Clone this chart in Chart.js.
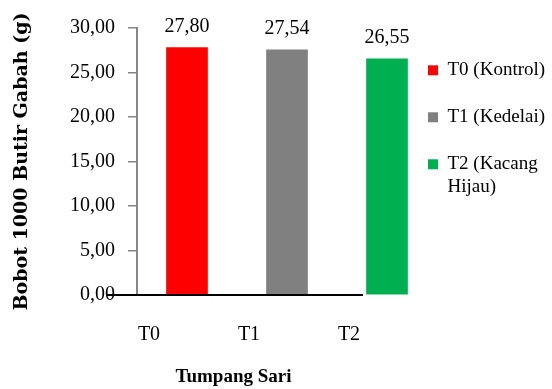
<!DOCTYPE html>
<html>
<head>
<meta charset="utf-8">
<script src="https://cdn.jsdelivr.net/npm/chart.js@4/dist/chart.umd.min.js"></script>
<style>
  html, body { margin: 0; padding: 0; background: #fff; }
  canvas { display: block; }
</style>
</head>
<body>
<canvas id="chart" width="552" height="389"></canvas>
<script>
// Categories on the x axis and their weights
const categories = ['T0', 'T1', 'T2'];
const weights = [27.80, 27.54, 26.55];
// Legend entries (array = wrapped lines)
const treatmentNames = ['T0 (Kontrol)', 'T1 (Kedelai)', ['T2 (Kacang', 'Hijau)']];
const barColors = ['#FF0000', '#808080', '#00B050'];
// Y axis range
const yMin = 0, yMax = 30, yStep = 5;

const serif = 'Liberation Serif';
const fmt = v => Number(v).toFixed(2).replace('.', ',');

// Value labels above each bar
const valueLabels = {
  id: 'valueLabels',
  afterDatasetsDraw(chart) {
    const ctx = chart.ctx;
    const meta = chart.getDatasetMeta(0);
    ctx.save();
    ctx.font = '20px "' + serif + '"';
    ctx.fillStyle = '#000';
    ctx.textAlign = 'center';
    ctx.textBaseline = 'middle';
    meta.data.forEach((bar, i) => {
      ctx.fillText(fmt(weights[i]), bar.x, bar.y - 21);
    });
    ctx.restore();
  }
};

// Black base line along zero
const baseLine = {
  id: 'baseLine',
  afterDraw(chart) {
    const {ctx, scales: {x, y}} = chart;
    const yp = y.getPixelForValue(0);
    ctx.save();
    ctx.strokeStyle = '#000';
    ctx.lineWidth = 2;
    ctx.beginPath();
    ctx.moveTo(x.getPixelForValue(-0.8), yp);
    ctx.lineTo(x.getPixelForValue(1.76), yp);
    ctx.stroke();
    ctx.restore();
  }
};

new Chart(document.getElementById('chart'), {
  type: 'bar',
  data: {
    datasets: [{
      data: weights.map((v, i) => ({x: i, y: v})),
      backgroundColor: barColors,
      borderWidth: 0,
      barThickness: 41,
      clip: false
    }]
  },
  options: {
    responsive: false,
    animation: false,
    layout: { padding: { top: 28, left: 5, right: 0, bottom: 0 } },
    plugins: {
      tooltip: { enabled: false },
      legend: {
        position: 'right',
        align: 'start',
        maxWidth: 152,
        // empty title used as a small top spacer
        title: { display: true, text: '', color: '#000', font: { size: 4 }, padding: 0 },
        labels: {
          boxWidth: 10,
          boxHeight: 10,
          padding: 28,
          color: '#000',
          font: { family: serif, size: 19 },
          generateLabels: () => treatmentNames.map((name, i) => ({
            text: name,
            fillStyle: barColors[i],
            strokeStyle: barColors[i],
            fontColor: '#000',
            lineWidth: 0,
            hidden: false,
            index: i
          }))
        }
      }
    },
    scales: {
      x: {
        type: 'linear',
        offset: false,
        min: -0.5,
        max: 1.43,
        grid: { display: false, offset: false },
        border: { display: false },
        afterBuildTicks: s => { s.ticks = categories.map((c, i) => ({value: i})); },
        afterFit: s => { s.height = 94; },
        ticks: {
          color: '#000',
          font: { family: serif, size: 20 },
          padding: 20,
          labelOffset: -38,
          autoSkip: false,
          maxRotation: 0,
          callback: v => categories[v]
        },
        title: {
          display: true,
          text: 'Tumpang Sari',
          color: '#000',
          font: { family: serif, size: 19, weight: 'bold' },
          padding: { top: 0, bottom: 1 }
        }
      },
      y: {
        min: yMin,
        max: yMax,
        afterFit: s => { s.width = 132; },
        ticks: {
          stepSize: yStep,
          color: '#000',
          font: { family: serif, size: 20 },
          padding: 13,
          callback: v => fmt(v)
        },
        grid: {
          drawOnChartArea: false,
          drawTicks: true,
          tickLength: 9,
          color: '#868686',
          lineWidth: 1.5
        },
        border: { display: true, color: '#868686', width: 2 },
        title: {
          display: true,
          text: 'Bobot 1000 Butir Gabah (g)',
          color: '#000',
          font: { family: 'DejaVu Serif', size: 19, weight: 'bold' },
          padding: { top: 6, bottom: 0 }
        }
      },
      // empty spacer between the plot and the legend
      gap: {
        type: 'linear',
        position: 'right',
        grid: { display: false },
        border: { display: false },
        ticks: { display: false },
        afterFit: s => { s.width = 70; }
      }
    }
  },
  plugins: [valueLabels, baseLine]
});
</script>
</body>
</html>
